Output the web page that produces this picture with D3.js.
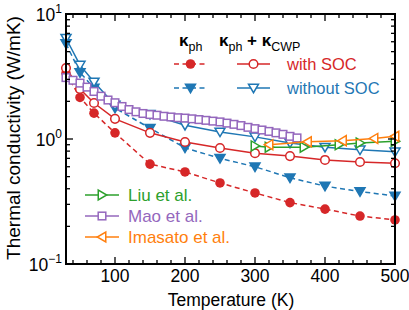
<!doctype html>
<html>
<head>
<meta charset="utf-8">
<script src="https://cdn.jsdelivr.net/npm/d3@7"></script>
<style>
  body { margin: 0; background: #fff; }
  svg text { font-family: "Liberation Sans", Arial, sans-serif; }
</style>
</head>
<body>
<svg id="chart" width="409" height="310"></svg>
<script>
// calculated data
var temps = [30, 50, 70, 100, 150, 200, 250, 300, 350, 400, 450, 500];
var phSoc = [3.35, 2.15, 1.61, 1.12, 0.63, 0.545, 0.445, 0.37, 0.31, 0.275, 0.242, 0.225];
var cwpSoc = [3.7, 2.51, 1.94, 1.45, 1.12, 0.946, 0.847, 0.77, 0.73, 0.68, 0.655, 0.64];
var phNoSoc = [5.8, 3.4, 2.56, 1.77, 1.22, 0.85, 0.70, 0.60, 0.49, 0.42, 0.38, 0.35];
var cwpNoSoc = [6.4, 3.9, 2.86, 1.87, 1.58, 1.29, 1.14, 1.04, 0.93, 0.86, 0.82, 0.79];

// experiments
var liuT = [300, 320, 370, 420, 450, 500];
var liuK = [0.88, 0.86, 0.86, 0.90, 0.93, 0.96];
var maoT = [30, 40, 50, 60, 70, 80, 90, 100, 110, 120, 130, 140, 150, 160, 170, 180, 190,
  200, 210, 220, 230, 240, 250, 260, 270, 280, 290, 300, 310, 320, 330, 340, 350, 360];
var maoK = [3.1, 2.95, 2.8, 2.6, 2.4, 2.2, 2.05, 1.95, 1.82, 1.72, 1.65, 1.6, 1.57, 1.55, 1.52, 1.5, 1.48,
  1.47, 1.45, 1.43, 1.41, 1.39, 1.37, 1.34, 1.31, 1.28, 1.24, 1.21, 1.18, 1.15, 1.12, 1.09, 1.05, 1.02];
var imaT = [320, 375, 425, 470, 500];
var imaK = [0.90, 0.95, 0.97, 1.01, 1.05];

var xTicks = [100, 200, 300, 400, 500];
var yTicks = [0.1, 1, 10];
var yExp = ["\u22121", "0", "1"];

var red = "#d62728", blue = "#1f77b4", green = "#2ca02c", purple = "#9467bd", orange = "#ff7f0e";

var svg = d3.select("#chart");
var pl = 66, pr = 395, pt = 14, pb = 264;

var x = d3.scaleLinear().domain([30, 500]).range([pl, pr]);
var y = d3.scaleLog().domain([0.1, 10]).range([pb, pt]);

// marker paths
function tri(dir, s) {
  if (dir == "down") return "M" + (-s) + "," + (-s * 0.75) + "L" + s + "," + (-s * 0.75) + "L0," + (s * 0.95) + "Z";
  if (dir == "right") return "M" + (-s * 0.75) + "," + (-s) + "L" + (-s * 0.75) + "," + s + "L" + (s * 0.95) + ",0Z";
  return "M" + (s * 0.75) + "," + (-s) + "L" + (s * 0.75) + "," + s + "L" + (-s * 0.95) + ",0Z";
}

function drawMarker(g, kind, color, px, py) {
  if (kind == "dot") {
    g.append("circle").attr("cx", px).attr("cy", py).attr("r", 4.8).attr("fill", color);
  } else if (kind == "circle") {
    g.append("circle").attr("cx", px).attr("cy", py).attr("r", 4.3)
      .attr("fill", "#fff").attr("stroke", color).attr("stroke-width", 1.5);
  } else if (kind == "square") {
    g.append("rect").attr("x", px - 3.8).attr("y", py - 3.8).attr("width", 7.6).attr("height", 7.6)
      .attr("fill", "#fff").attr("stroke", color).attr("stroke-width", 1.5);
  } else {
    var parts = kind.split("-");
    g.append("path").attr("transform", "translate(" + px + "," + py + ")")
      .attr("d", tri(parts[1], 5))
      .attr("fill", parts[0] == "filled" ? color : "#fff")
      .attr("stroke", color).attr("stroke-width", 1.5);
  }
}

function series(xs, ys, color, dashed, kind) {
  var pts = xs.map(function (d, i) { return [x(d), y(ys[i])]; });
  var g = svg.append("g");
  g.append("path").attr("d", d3.line()(pts))
    .attr("fill", "none").attr("stroke", color).attr("stroke-width", 1.5)
    .attr("stroke-dasharray", dashed ? "5,3.5" : null);
  pts.forEach(function (p) { drawMarker(g, kind, color, p[0], p[1]); });
}

series(temps, phSoc, red, true, "dot");
series(temps, phNoSoc, blue, true, "filled-down");
series(temps, cwpSoc, red, false, "circle");
series(temps, cwpNoSoc, blue, false, "open-down");
series(maoT, maoK, purple, false, "square");
series(liuT, liuK, green, false, "open-right");
series(imaT, imaK, orange, false, "open-left");

// ticks
var axes = svg.append("g").attr("stroke", "#000").attr("stroke-width", 1.3);
d3.range(40, 501, 20).forEach(function (t) {
  var len = t % 100 == 0 ? 7 : 4;
  axes.append("line").attr("x1", x(t)).attr("x2", x(t)).attr("y1", pb).attr("y2", pb - len);
  axes.append("line").attr("x1", x(t)).attr("x2", x(t)).attr("y1", pt).attr("y2", pt + len);
});
[0.1, 1].forEach(function (dec) {
  d3.range(1, 10).forEach(function (m) {
    var v = dec * m;
    var len = m == 1 ? 7 : 4;
    axes.append("line").attr("x1", pl).attr("x2", pl + len).attr("y1", y(v)).attr("y2", y(v));
    axes.append("line").attr("x1", pr).attr("x2", pr - len).attr("y1", y(v)).attr("y2", y(v));
  });
});

svg.append("rect").attr("x", pl).attr("y", pt).attr("width", pr - pl).attr("height", pb - pt)
  .attr("fill", "none").attr("stroke", "#000").attr("stroke-width", 2);

// tick labels
xTicks.forEach(function (t) {
  svg.append("text").attr("x", x(t)).attr("y", 282).attr("text-anchor", "middle")
    .attr("font-size", 17.5).text(t);
});
yTicks.forEach(function (v, i) {
  var t = svg.append("text").attr("x", 62).attr("y", y(v) + 7).attr("text-anchor", "end")
    .attr("font-size", 17.5);
  t.append("tspan").text("10");
  t.append("tspan").attr("dy", -8).attr("font-size", 12).text(yExp[i]);
});

// axis titles
svg.append("text").attr("x", 231).attr("y", 306).attr("text-anchor", "middle")
  .attr("font-size", 17.5).text("Temperature (K)");
svg.append("text").attr("transform", "translate(20,138) rotate(-90)").attr("text-anchor", "middle")
  .attr("font-size", 19).text("Thermal conductivity (W/mK)");

// legend, upper
function kappa(t, parts) {
  parts.forEach(function (p) {
    if (p[1]) t.append("tspan").attr("font-size", 12.5).attr("dy", 5).text(p[0]);
    else t.append("tspan").attr("font-size", 17).attr("font-weight", "bold").attr("dy", p[2] || 0).text(p[0]);
  });
}
var k1 = svg.append("text").attr("x", 179).attr("y", 46);
kappa(k1, [["\u03ba"], ["ph", true]]);
var k2 = svg.append("text").attr("x", 219).attr("y", 46);
kappa(k2, [["\u03ba"], ["ph", true], [" + \u03ba", false, -5], ["CWP", true]]);

function legLine(x1, x2, yy, color, dashed, kind) {
  var g = svg.append("g");
  g.append("line").attr("x1", x1).attr("x2", x2).attr("y1", yy).attr("y2", yy)
    .attr("stroke", color).attr("stroke-width", 1.5).attr("stroke-dasharray", dashed ? "5,3.5" : null);
  drawMarker(g, kind, color, (x1 + x2) / 2, yy);
}
legLine(174, 207, 64, red, true, "dot");
legLine(237, 270, 64, red, false, "circle");
legLine(174, 207, 88, blue, true, "filled-down");
legLine(237, 270, 88, blue, false, "open-down");
svg.append("text").attr("x", 287).attr("y", 70).attr("font-size", 16.5).attr("fill", red).text("with SOC");
svg.append("text").attr("x", 287).attr("y", 94).attr("font-size", 16.5).attr("fill", blue).text("without SOC");

// legend, lower
legLine(85, 119, 195, green, false, "open-right");
legLine(85, 119, 216, purple, false, "square");
legLine(85, 119, 237, orange, false, "open-left");
svg.append("text").attr("x", 128).attr("y", 201).attr("font-size", 17).attr("fill", green).text("Liu et al.");
svg.append("text").attr("x", 128).attr("y", 222).attr("font-size", 17).attr("fill", purple).text("Mao et al.");
svg.append("text").attr("x", 128).attr("y", 243).attr("font-size", 17).attr("fill", orange).text("Imasato et al.");
</script>
</body>
</html>
